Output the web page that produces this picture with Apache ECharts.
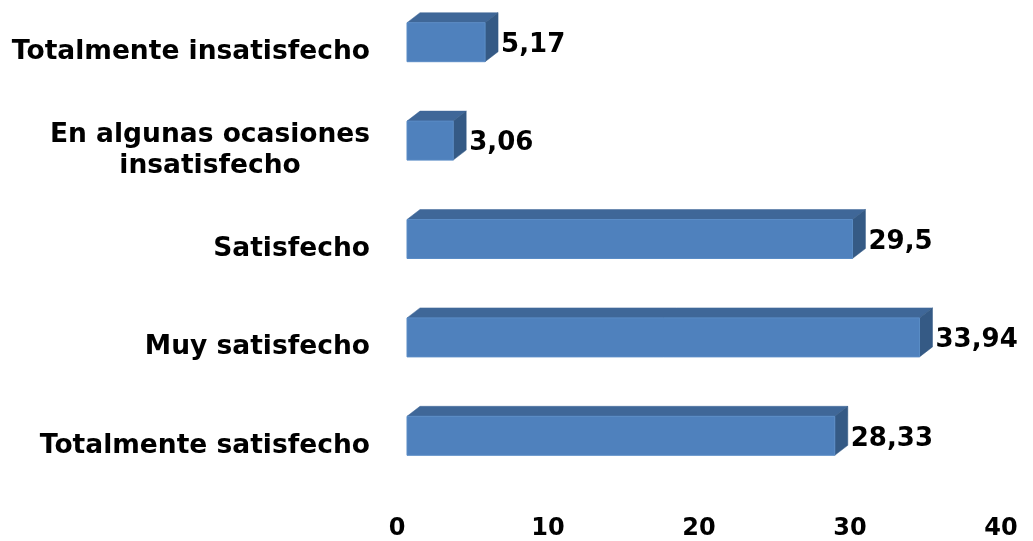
<!DOCTYPE html>
<html>
<head>
<meta charset="utf-8">
<script src="https://cdn.jsdelivr.net/npm/echarts@6/dist/echarts.min.js"></script>
<style>
  html, body { margin: 0; padding: 0; background: #fff; }
  #chart { width: 1033px; height: 541px; }
</style>
</head>
<body>
<div id="chart"></div>
<script>
// categorias de abajo hacia arriba (eje de categorias en ECharts empieza abajo)
var categorias = [
  'Totalmente satisfecho',
  'Muy satisfecho',
  'Satisfecho',
  'En algunas ocasiones\ninsatisfecho',
  'Totalmente insatisfecho'
];
var valores = [28.33, 33.94, 29.5, 3.06, 5.17];
var ticksX = [0, 10, 20, 30, 40];

var FONT = 'DejaVu Sans';
var DEPTH_X = 13, DEPTH_Y = 10;
var SHIFT_Y = -7; // cara frontal un poco por encima del centro de la banda (efecto 3D)

var chart = echarts.init(document.getElementById('chart'));

function renderBar(params, api) {
  var idx = api.value(0);
  var v = api.value(1);
  var p0 = api.coord([0, idx]);
  var p1 = api.coord([v, idx]);
  var h = 39;
  var cy = p0[1] + SHIFT_Y;
  var x0 = p0[0], x1 = p1[0];
  var y0 = cy - h / 2, y1 = cy + h / 2;
  return {
    type: 'group',
    children: [
      {
        type: 'polygon',
        shape: { points: [[x0, y0], [x0 + DEPTH_X, y0 - DEPTH_Y], [x1 + DEPTH_X, y0 - DEPTH_Y], [x1, y0]] },
        style: { fill: '#3f6798', stroke: '#3f6798', lineWidth: 0.5 }
      },
      {
        type: 'polygon',
        shape: { points: [[x1, y0], [x1 + DEPTH_X, y0 - DEPTH_Y], [x1 + DEPTH_X, y1 - DEPTH_Y], [x1, y1]] },
        style: { fill: '#355a85', stroke: '#355a85', lineWidth: 0.5 }
      },
      {
        type: 'rect',
        shape: { x: x0, y: y0, width: x1 - x0, height: h },
        style: { fill: '#4f81bd', stroke: '#5a8cc6', lineWidth: 1 }
      },
      {
        type: 'text',
        x: x1 + DEPTH_X + 3,
        y: cy + 3,
        style: {
          text: String(v).replace('.', ','),
          fill: '#000',
          font: 'bold 26px "' + FONT + '"',
          align: 'left',
          verticalAlign: 'middle'
        }
      }
    ]
  };
}

chart.setOption({
  animation: false,
  backgroundColor: '#ffffff',
  grid: { left: 407, right: 22, top: 0, bottom: 46 },
  xAxis: {
    type: 'value',
    min: 0,
    max: 40,
    interval: 10,
    axisLine: { show: false },
    axisTick: { show: false },
    splitLine: { show: false },
    axisLabel: {
      margin: 25,
      color: '#000',
      fontFamily: FONT,
      fontWeight: 'bold',
      fontSize: 24,
      padding: [0, 20, 0, 0],
      formatter: function (v) { return ticksX.indexOf(v) >= 0 ? String(v) : ''; }
    }
  },
  yAxis: {
    type: 'category',
    data: categorias,
    axisLine: { show: false },
    axisTick: { show: false },
    splitLine: { show: false },
    axisLabel: {
      margin: 37,
      color: '#000',
      fontFamily: FONT,
      fontWeight: 'bold',
      fontSize: 26.5,
      lineHeight: 31,
      padding: [6, 0, 0, 0],
      formatter: function (v) {
        if (v.indexOf('\n') >= 0) {
          return v.split('\n').map(function (l) { return '{c|' + l + '}'; }).join('\n');
        }
        return v;
      },
      rich: {
        c: {
          width: 320,
          align: 'center',
          color: '#000',
          fontFamily: FONT,
          fontWeight: 'bold',
          fontSize: 26.5,
          lineHeight: 31
        }
      }
    }
  },
  series: [{
    type: 'custom',
    renderItem: renderBar,
    encode: { x: 1, y: 0 },
    data: valores.map(function (v, i) { return [i, v]; })
  }]
});
</script>
</body>
</html>
